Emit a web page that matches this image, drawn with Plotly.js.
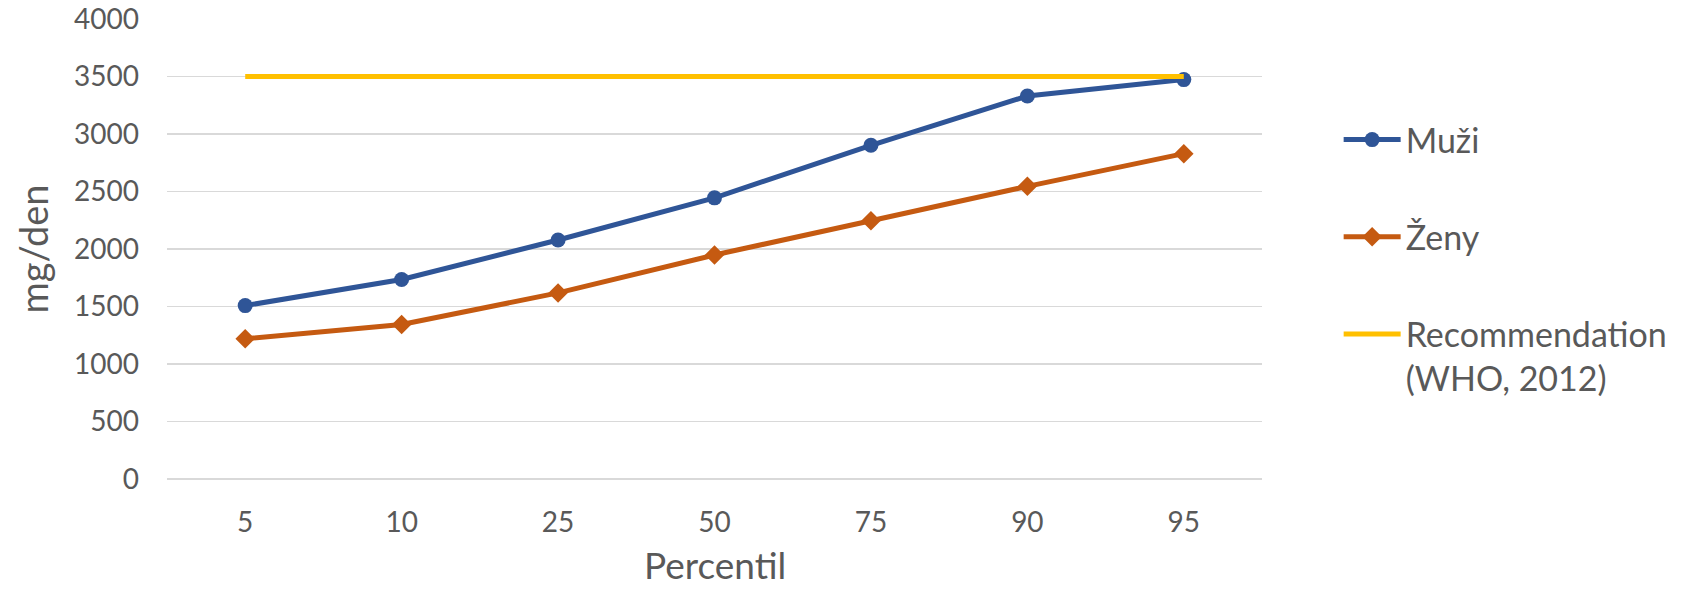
<!DOCTYPE html>
<html>
<head>
<meta charset="utf-8">
<script src="https://cdn.plot.ly/plotly-3.0.1.min.js"></script>
<style>
  html, body { margin: 0; padding: 0; background: #ffffff; }
  #chart { width: 1688px; height: 591px; }
</style>
</head>
<body>
<div id="chart"></div>
<script>
// Percentile categories on the x axis
const percentiles = ['5', '10', '25', '50', '75', '90', '95'];
// Daily intake (mg/den) by percentile
const muzi = [1508, 1735, 2078, 2445, 2902, 3330, 3473];
const zeny = [1219, 1343, 1618, 1948, 2246, 2545, 2829];
// WHO 2012 recommended level
const recommendation = [3500, 3500, 3500, 3500, 3500, 3500, 3500];

const seriesNames = ['Muži', 'Ženy', 'Recommendation<br>(WHO, 2012)'];
const xTitle = 'Percentil';
const yTitle = 'mg/den';
const textColor = '#595959';
const fontFamily = 'Lato, "Open Sans", sans-serif';

const traces = [
  {
    x: percentiles, y: muzi, name: seriesNames[0], legendgroup: 'a',
    type: 'scatter', mode: 'lines+markers',
    line: { color: '#2F5597', width: 5 },
    marker: { symbol: 'circle', size: 15, color: '#2F5597' }
  },
  {
    x: percentiles, y: zeny, name: seriesNames[1], legendgroup: 'b',
    type: 'scatter', mode: 'lines+markers',
    line: { color: '#C55A11', width: 5 },
    marker: { symbol: 'diamond', size: 15, color: '#C55A11' }
  },
  {
    x: percentiles, y: recommendation, name: seriesNames[2], legendgroup: 'c',
    type: 'scatter', mode: 'lines',
    line: { color: '#FFC000', width: 5 }
  }
];

const layout = {
  width: 1688, height: 591,
  paper_bgcolor: '#ffffff', plot_bgcolor: '#ffffff',
  margin: { l: 167, r: 426, t: 19, b: 112, pad: 0 },
  font: { family: fontFamily, color: textColor, size: 28 },
  showlegend: true,
  xaxis: {
    type: 'category',
    range: [-0.5, 6.5],
    showgrid: false, zeroline: false, showline: false,
    ticks: '', ticklabelstandoff: 24,
    tickfont: { size: 28, color: textColor, family: fontFamily },
    fixedrange: true
  },
  yaxis: {
    range: [0, 4000], dtick: 500, tick0: 0,
    showgrid: true, gridcolor: '#D9D9D9', gridwidth: 1.5,
    zeroline: true, zerolinecolor: '#D9D9D9', zerolinewidth: 1.5,
    showline: false, ticks: '', ticklabelstandoff: 27,
    tickfont: { size: 28, color: textColor, family: fontFamily },
    title: { text: yTitle, font: { size: 38, color: textColor, family: fontFamily }, standoff: 13 },
    fixedrange: true
  },
  // x-axis title placed below the tick labels
  annotations: [{
    text: xTitle, xref: 'paper', yref: 'paper', x: 0.5, y: -0.185,
    xanchor: 'center', yanchor: 'middle', showarrow: false,
    font: { size: 37, color: textColor, family: fontFamily }
  }],
  legend: {
    x: 1.07, xanchor: 'left', y: 0.8, yanchor: 'top',
    traceorder: 'grouped', tracegroupgap: 50, valign: 'top',
    itemwidth: 57,
    font: { size: 34, color: textColor, family: fontFamily },
    bgcolor: 'rgba(0,0,0,0)', borderwidth: 0
  }
};

Plotly.newPlot('chart', traces, layout, { displayModeBar: false, staticPlot: true });
</script>
</body>
</html>
